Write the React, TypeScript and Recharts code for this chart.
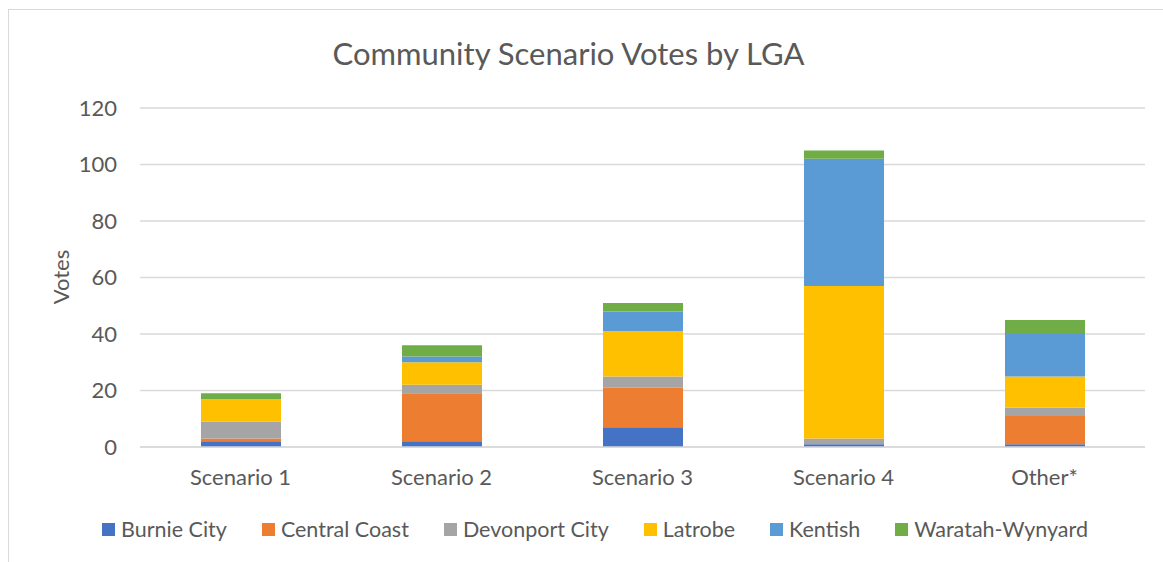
import React from "react";
import { BarChart, Bar, XAxis, YAxis, CartesianGrid } from "recharts";

const categories = ["Scenario 1", "Scenario 2", "Scenario 3", "Scenario 4", "Other*"];
const burnieCity = [2, 2, 7, 1, 1];
const centralCoast = [1, 17, 14, 0, 10];
const devonportCity = [6, 3, 4, 2, 3];
const latrobe = [8, 8, 16, 54, 11];
const kentish = [0, 2, 7, 45, 15];
const waratahWynyard = [2, 4, 3, 3, 5];
const yTicks = [0, 20, 40, 60, 80, 100, 120];

const seriesDefs = [
  { key: "Burnie City", values: burnieCity, color: "#4472C4" },
  { key: "Central Coast", values: centralCoast, color: "#ED7D31" },
  { key: "Devonport City", values: devonportCity, color: "#A5A5A5" },
  { key: "Latrobe", values: latrobe, color: "#FFC000" },
  { key: "Kentish", values: kentish, color: "#5B9BD5" },
  { key: "Waratah-Wynyard", values: waratahWynyard, color: "#70AD47" },
];

const data = categories.map((c, i) => {
  const row: Record<string, any> = { name: c };
  seriesDefs.forEach((s) => (row[s.key] = s.values[i]));
  return row;
});

const FONT = "Lato, 'Open Sans', sans-serif";
const TEXT = "#595959";

export default function App() {
  return (
    <div style={{ position: "absolute", left: 0, top: 0, width: 1163, height: 562, background: "#fff", overflow: "hidden" }}>
      <div
        style={{
          position: "absolute",
          left: 8,
          top: 9,
          width: 1200,
          height: 600,
          borderTop: "1px solid #d9d9d9",
          borderLeft: "1px solid #d9d9d9",
        }}
      />
      <div
        style={{
          position: "absolute",
          left: 0,
          width: 1137,
          top: 34,
          textAlign: "center",
          fontFamily: FONT,
          fontSize: 31,
          color: TEXT,
        }}
      >
        Community Scenario Votes by LGA
      </div>
      <div
        style={{
          position: "absolute",
          left: 60,
          top: 277,
          transform: "translate(-50%, -50%) rotate(-90deg)",
          fontFamily: FONT,
          fontSize: 22,
          color: TEXT,
        }}
      >
        Votes
      </div>
      <div style={{ position: "absolute", left: 0, top: 0 }}>
        <BarChart
          width={1163}
          height={562}
          data={data}
          margin={{ top: 108, right: 18, bottom: 75, left: 80 }}
          barSize={80}
        >
          <CartesianGrid vertical={false} stroke="#d9d9d9" strokeWidth={1.5} />
          <XAxis
            dataKey="name"
            axisLine={{ stroke: "#d9d9d9", strokeWidth: 1.5 }}
            tickLine={false}
            tickMargin={16}
            tick={{ fill: TEXT, fontFamily: FONT, fontSize: 22 }}
            height={40}
          />
          <YAxis
            width={60}
            domain={[0, 120]}
            ticks={yTicks}
            axisLine={false}
            tickLine={false}
            tickMargin={17}
            tick={{ fill: TEXT, fontFamily: FONT, fontSize: 22 }}
          />
          {seriesDefs.map((s) => (
            <Bar key={s.key} dataKey={s.key} stackId="a" fill={s.color} isAnimationActive={false} />
          ))}
        </BarChart>
      </div>
      <div
        style={{
          position: "absolute",
          left: 40,
          width: 1110,
          top: 516,
          display: "flex",
          justifyContent: "center",
          gap: 35,
          fontFamily: FONT,
          fontSize: 21.5,
          color: TEXT,
        }}
      >
        {seriesDefs.map((s) => (
          <div key={s.key} style={{ display: "flex", alignItems: "center" }}>
            <span style={{ width: 13, height: 13, background: s.color, display: "inline-block", marginRight: 6 }} />
            <span>{s.key}</span>
          </div>
        ))}
      </div>
    </div>
  );
}
